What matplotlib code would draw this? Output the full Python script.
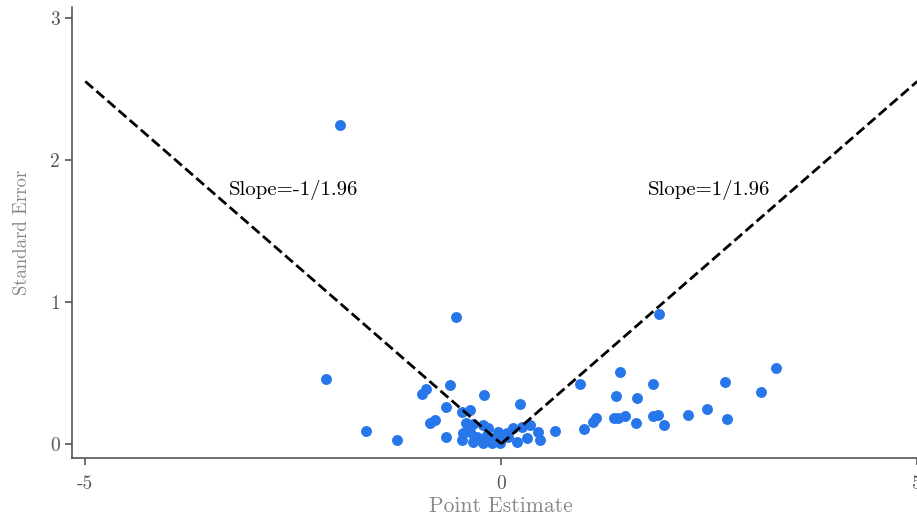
import numpy as np
import matplotlib
matplotlib.use("Agg")
from matplotlib import pyplot as plt

# estimaciones puntuales y errores estandar
est = [-1.935, -0.541, 1.899, -2.103, 3.305, 1.430, 0.950, 1.827, 2.692, 3.125,
       1.382, 1.635, 0.649, 0.998, 1.106, 1.142, 1.358, 1.406, 1.490, 1.623,
       1.827, 1.887, 1.959, 2.248, 2.476, 2.716, -1.623, -1.250, -0.950, -0.901,
       -0.613, -0.204, -0.661, 0.228, -0.853, -0.793, -0.661, -0.469, -0.373, -0.421,
       -0.337, -0.216, -0.156, -0.457, -0.469, 0.144, 0.252, 0.349, 0.445, 0.192,
       0.313, 0.469, 0.072, 0.084, -0.012, -0.288, -0.228, -0.168, -0.096, -0.337,
       -0.216, -0.108, -0.373, -0.036, 0.012]
se = [2.242, 0.892, 0.914, 0.457, 0.534, 0.506, 0.422, 0.422, 0.436, 0.365,
      0.337, 0.323, 0.091, 0.105, 0.155, 0.183, 0.183, 0.183, 0.197, 0.148,
      0.197, 0.204, 0.134, 0.204, 0.246, 0.176, 0.091, 0.028, 0.351, 0.387,
      0.415, 0.344, 0.260, 0.281, 0.148, 0.169, 0.049, 0.225, 0.239, 0.148,
      0.141, 0.134, 0.112, 0.077, 0.028, 0.112, 0.119, 0.134, 0.084, 0.014,
      0.042, 0.028, 0.077, 0.049, 0.002, 0.049, 0.028, 0.063, 0.042, 0.014,
      0.002, 0.002, 0.084, 0.084, 0.049]

xticks = [-5, 0, 5]
xticklabels = ["-5", "0", "5"]
yticks = [0, 1, 2, 3]
yticklabels = ["0", "1", "2", "3"]

z = 1.96

plt.rcParams['font.family'] = 'serif'
plt.rcParams['font.serif'] = ['cmr10', 'DejaVu Serif']

fig = plt.figure(figsize=(9.17, 5.21), dpi=100)
ax = fig.add_axes([0.0785, 0.121, 0.9363, 0.8656])

ax.scatter(est, se, s=62, color="#2776EA", zorder=2, linewidths=0)

# lineas de significancia
xl = np.array([-5, 0])
xr = np.array([0, 5])
ax.plot(xl, -xl / z, "k--", lw=2, zorder=3)
ax.plot(xr, xr / z, "k--", lw=2, zorder=3)

ax.text(-2.5, 1.785, "Slope=-1/1.96", ha="center", va="center", fontsize=15)
ax.text(2.5, 1.785, "Slope=1/1.96", ha="center", va="center", fontsize=15)

ax.set_xlim(-5.16, 5.16)
ax.set_ylim(-0.1, 3.075)
ax.set_xticks(xticks)
ax.set_xticklabels(xticklabels)
ax.set_yticks(yticks)
ax.set_yticklabels(yticklabels)

ax.spines["top"].set_visible(False)
ax.spines["right"].set_visible(False)
for s in ["left", "bottom"]:
    ax.spines[s].set_color("#555555")
    ax.spines[s].set_linewidth(1.2)
ax.tick_params(colors="#555555", labelsize=14, length=5, width=1.2)
ax.tick_params(axis="x", pad=7)

ax.set_xlabel("Point Estimate", fontsize=15.5, color="#888888", labelpad=3)
ax.set_ylabel("Standard Error", fontsize=13.5, color="#888888", labelpad=14)

fig.savefig("out.png", dpi=100)
